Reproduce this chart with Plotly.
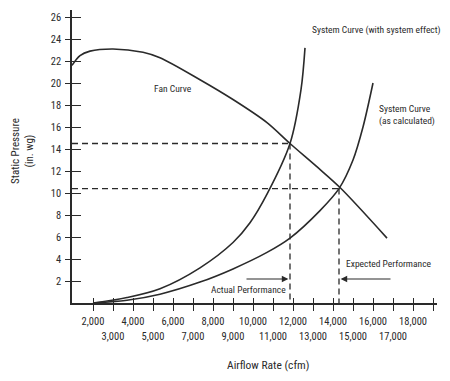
import plotly.graph_objects as go

# ---- data ----
fan_q = [950, 1350, 1850, 3000, 4500, 5350, 7350, 9000, 10700, 11850, 13250, 14350, 16700]
fan_p = [21.6, 22.5, 22.9, 23.1, 22.8, 22.3, 20.3, 18.5, 16.4, 14.5, 12.3, 10.5, 5.9]

sys_eff_q = [2000, 3700, 5350, 7350, 9000, 9850, 10700, 11850, 12400, 12600]
sys_eff_p = [0, 0.5, 1.3, 3.2, 5.5, 7.3, 9.9, 14.5, 19.4, 23.2]

sys_calc_q = [2000, 3700, 5350, 7350, 9000, 10700, 11850, 13350, 14300, 15000, 15500, 16000]
sys_calc_p = [0, 0.25, 0.8, 1.9, 3.1, 4.6, 5.9, 8.4, 10.4, 13.0, 16.0, 20.0]

actual_q, actual_p = 11850, 14.5
expected_q, expected_p = 14300, 10.4

y_ticks = [2, 4, 6, 8, 10, 12, 14, 16, 18, 20, 22, 24, 26]
x_ticks = list(range(2000, 20000, 1000))
x_even_labels = [f"{v:,}" if (v // 1000) % 2 == 0 and v <= 18000 else "" for v in x_ticks]
x_odd_labels = [f"{v:,}" if (v // 1000) % 2 == 1 and v <= 17000 else "" for v in x_ticks]

X_RANGE = [950, 19200]
Y_RANGE = [0, 26.64]

FONT = "Liberation Sans Narrow, Arial Narrow, Roboto Condensed, Liberation Sans, sans-serif"
INK = "#2a2a2a"

fig = go.Figure()

curve = dict(color=INK, width=1.6, shape="spline", smoothing=0.9)
fig.add_trace(go.Scatter(x=fan_q, y=fan_p, mode="lines", line=curve))
fig.add_trace(go.Scatter(x=sys_eff_q, y=sys_eff_p, mode="lines", line=curve))
fig.add_trace(go.Scatter(x=sys_calc_q, y=sys_calc_p, mode="lines", line=curve))

dash = dict(color=INK, width=1.3, dash="6px,4px")
for q, p in [(actual_q, actual_p), (expected_q, expected_p)]:
    fig.add_trace(go.Scatter(x=[X_RANGE[0], q], y=[p, p], mode="lines", line=dash))
    fig.add_trace(go.Scatter(x=[q, q], y=[p, 0], mode="lines", line=dash))

# invisible trace on overlay axes so they render
fig.add_trace(go.Scatter(x=[X_RANGE[0]], y=[0], xaxis="x2", yaxis="y2",
                         mode="markers", marker=dict(opacity=0)))

# page body has an 8px margin: figure is sized/positioned to compensate
fig.update_layout(
    width=436, height=365,
    margin=dict(l=64, r=7, t=2, b=70),
    paper_bgcolor="white", plot_bgcolor="white",
    showlegend=False,
    font=dict(family=FONT, size=9.5, color=INK),
    xaxis=dict(range=X_RANGE, showgrid=False, zeroline=False,
               showline=True, linecolor=INK, linewidth=1.5,
               tickmode="array", tickvals=x_ticks, ticktext=x_even_labels,
               ticks="outside", ticklen=6, tickwidth=1.3, tickcolor=INK,
               tickfont=dict(size=10.5), ticklabelstandoff=2),
    yaxis=dict(range=Y_RANGE, showgrid=False, zeroline=False,
               showline=True, linecolor=INK, linewidth=1.5,
               tickmode="array", tickvals=y_ticks,
               ticks="outside", ticklen=5, tickwidth=1.3, tickcolor=INK,
               tickfont=dict(size=10.5), ticklabelstandoff=2),
    xaxis2=dict(range=X_RANGE, overlaying="x", anchor="y", side="bottom",
                showgrid=False, zeroline=False, showline=False,
                tickmode="array", tickvals=x_ticks, ticktext=x_odd_labels,
                ticks="inside", ticklen=5, tickwidth=1.3, tickcolor=INK,
                tickfont=dict(size=10.5), ticklabelstandoff=25),
    yaxis2=dict(range=Y_RANGE, overlaying="y", anchor="x", side="left",
                showgrid=False, zeroline=False, showline=False,
                tickmode="array", tickvals=y_ticks, showticklabels=False,
                ticks="inside", ticklen=9, tickwidth=1.3, tickcolor=INK),
)

ann = []
ann.append(dict(text="Static Pressure<br>(in. wg)", xref="paper", yref="paper",
                x=-0.134, y=0.519, xanchor="center", yanchor="middle",
                textangle=-90, showarrow=False, font=dict(size=11)))
ann.append(dict(text="Airflow Rate (cfm)", xref="paper", yref="paper",
                x=0.537, y=-0.2116, xanchor="center", yanchor="middle",
                showarrow=False, font=dict(size=11.5)))
ann.append(dict(text="Fan Curve", x=6000, y=19.5, showarrow=False))
ann.append(dict(text="System Curve (with system effect)", x=16150, y=24.8,
                xanchor="center", showarrow=False))
ann.append(dict(text="System Curve<br>(as calculated)", x=16200, y=17.1,
                xanchor="left", align="left", showarrow=False))
ann.append(dict(text="Actual Performance", x=9750, y=1.27, xanchor="center", showarrow=False))
ann.append(dict(text="Expected Performance", x=16800, y=3.55, xanchor="center", showarrow=False))
# arrows
ann.append(dict(text="", x=actual_q - 80, y=2.18, ax=9600, ay=2.18,
                axref="x", ayref="y", showarrow=True, arrowhead=2,
                arrowsize=1.1, arrowwidth=1.2, arrowcolor=INK))
ann.append(dict(text="", x=expected_q + 80, y=2.18, ax=16950, ay=2.18,
                axref="x", ayref="y", showarrow=True, arrowhead=2,
                arrowsize=1.1, arrowwidth=1.2, arrowcolor=INK))
fig.update_layout(annotations=ann)

fig.write_html("out.html")
